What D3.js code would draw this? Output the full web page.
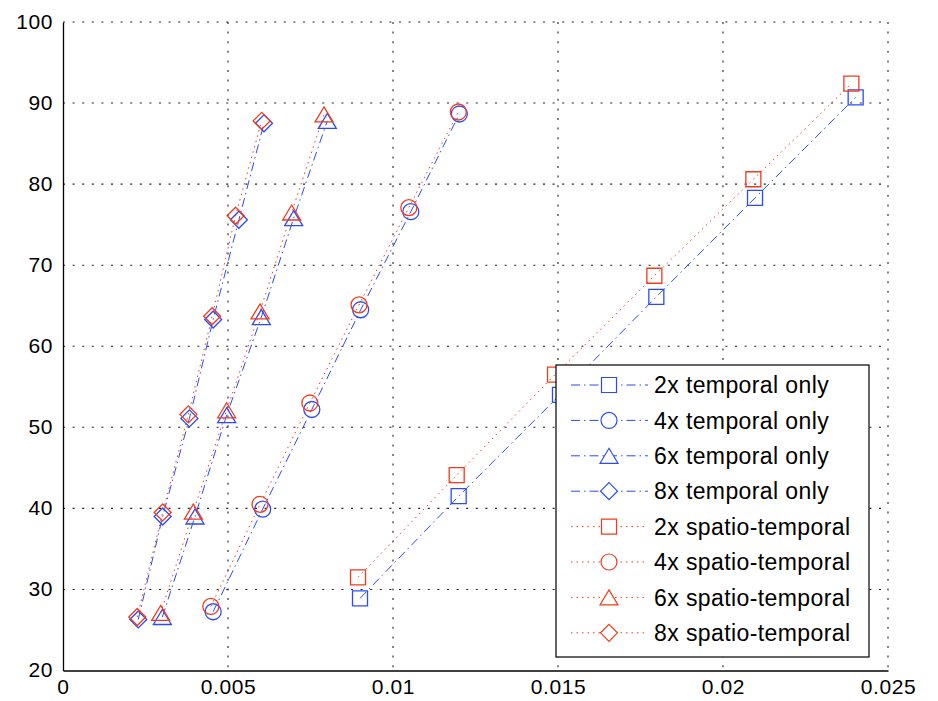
<!DOCTYPE html>
<html>
<head>
<meta charset="utf-8">
<script src="https://cdn.jsdelivr.net/npm/d3@7"></script>
<style>
  html, body { margin: 0; padding: 0; background: #fff; }
  svg { display: block; }
  text { font-family: "Liberation Sans", Arial, Helvetica, sans-serif; fill: #000; }
</style>
</head>
<body>
<svg id="chart" width="938" height="701"></svg>
<script>
// ---- data ----
const seriesNames = [
  "2x temporal only", "4x temporal only", "6x temporal only", "8x temporal only",
  "2x spatio-temporal", "4x spatio-temporal", "6x spatio-temporal", "8x spatio-temporal"
];
const seriesKinds = ["temporal", "temporal", "temporal", "temporal", "spatio", "spatio", "spatio", "spatio"];
const seriesMarkers = ["square", "circle", "triangle", "diamond", "square", "circle", "triangle", "diamond"];

const t2x_x = [0.0090, 0.01199, 0.01506, 0.01798, 0.02097, 0.02402];
const t2x_y = [28.9, 41.5, 54.0, 66.1, 78.3, 90.7];
const t4x_x = [0.00455, 0.00605, 0.00754, 0.00902, 0.01054, 0.01201];
const t4x_y = [27.25, 39.9, 52.2, 64.5, 76.6, 88.65];
const t6x_x = [0.00301, 0.0040, 0.00496, 0.00601, 0.00699, 0.00801];
const t6x_y = [26.6, 39.0, 51.5, 63.6, 75.8, 87.8];
const t8x_x = [0.00228, 0.00302, 0.00383, 0.00455, 0.00533, 0.00609];
const t8x_y = [26.3, 39.0, 51.1, 63.3, 75.6, 87.5];

const s2x_x = [0.00894, 0.01193, 0.01491, 0.01792, 0.02092, 0.02389];
const s2x_y = [31.5, 44.1, 56.5, 68.7, 80.6, 92.4];
const s4x_x = [0.00448, 0.00597, 0.00748, 0.00897, 0.01048, 0.01198];
const s4x_y = [27.9, 40.5, 53.0, 65.1, 77.1, 88.9];
const s6x_x = [0.00296, 0.00395, 0.00496, 0.00597, 0.00693, 0.00791];
const s6x_y = [27.1, 39.6, 52.1, 64.3, 76.5, 88.6];
const s8x_x = [0.00225, 0.00302, 0.0038, 0.00452, 0.00523, 0.00602];
const s8x_y = [26.6, 39.5, 51.6, 63.7, 76.1, 87.8];

const xTicks = [0, 0.005, 0.01, 0.015, 0.02, 0.025];
const xTickLabels = ["0", "0.005", "0.01", "0.015", "0.02", "0.025"];
const yTicks = [20, 30, 40, 50, 60, 70, 80, 90, 100];

const seriesX = [t2x_x, t4x_x, t6x_x, t8x_x, s2x_x, s4x_x, s6x_x, s8x_x];
const seriesY = [t2x_y, t4x_y, t6x_y, t8x_y, s2x_y, s4x_y, s6x_y, s8x_y];

// ---- layout / style ----
const plot = { left: 63, right: 888, top: 22, bottom: 670.5 };
const blue = "#2a4cf4";
const red = "#f23a1c";
const styleOf = {
  temporal: { color: blue, dash: "9,4,1.5,4" },
  spatio: { color: red, dash: "1.5,4" }
};

const svg = d3.select("#chart");
const x = d3.scaleLinear().domain([0, 0.025]).range([plot.left, plot.right]);
const y = d3.scaleLinear().domain([20, 100]).range([plot.bottom, plot.top]);

// grid
const grid = svg.append("g");
grid.selectAll("line.vg").data(xTicks.slice(1)).join("line")
  .attr("x1", d => x(d)).attr("x2", d => x(d))
  .attr("y1", plot.top).attr("y2", plot.bottom)
  .attr("stroke", "#222").attr("stroke-width", 1.1).attr("stroke-dasharray", "2,7.6");
grid.selectAll("line.hg").data(yTicks.slice(1)).join("line")
  .attr("x1", plot.left).attr("x2", plot.right)
  .attr("y1", d => y(d)).attr("y2", d => y(d))
  .attr("stroke", "#222").attr("stroke-width", 1.1).attr("stroke-dasharray", "2,7.6");

// axes
const xAxis = d3.axisBottom(x).tickValues(xTicks).tickFormat((d, i) => xTickLabels[i]).tickSize(0).tickPadding(10);
const yAxis = d3.axisLeft(y).tickValues(yTicks).tickFormat(d3.format("d")).tickSize(0).tickPadding(10);

const gx = svg.append("g").attr("transform", `translate(0,${plot.bottom})`).call(xAxis);
const gy = svg.append("g").attr("transform", `translate(${plot.left},0)`).call(yAxis);
[gx, gy].forEach(g => {
  g.attr("font-size", 21).attr("font-family", "'Liberation Sans', Arial, sans-serif");
  g.select(".domain").attr("stroke", "#000").attr("stroke-width", 1.3);
  g.selectAll("text").attr("font-size", 21).attr("letter-spacing", "0.6px").attr("fill", "#000");
});
gx.selectAll("text").attr("dy", "0.62em");
gy.selectAll("text").attr("dy", "0.3em");

// marker path generator (centered on bounding box)
function markerPath(kind) {
  switch (kind) {
    case "square": { const h = 7.5; return `M${-h},${-h}H${h}V${h}H${-h}Z`; }
    case "circle": { const r = 8; return `M${r},0A${r},${r} 0 1,1 ${-r},0A${r},${r} 0 1,1 ${r},0Z`; }
    case "triangle": { const w = 9, h = 7.5; return `M0,${-h}L${w},${h}L${-w},${h}Z`; }
    case "diamond": { const r = 8.5; return `M0,${-r}L${r},0L0,${r}L${-r},0Z`; }
  }
}

// series lines and markers
const line = d3.line().x(d => x(d[0])).y(d => y(d[1]));
seriesNames.forEach((name, i) => {
  const st = styleOf[seriesKinds[i]];
  const pts = seriesX[i].map((v, k) => [v, seriesY[i][k]]);
  const g = svg.append("g");
  g.append("path").datum(pts).attr("d", line)
    .attr("fill", "none").attr("stroke", st.color).attr("stroke-width", 1)
    .attr("stroke-dasharray", st.dash);
  g.selectAll("path.m").data(pts).join("path")
    .attr("d", markerPath(seriesMarkers[i]))
    .attr("transform", d => `translate(${x(d[0])},${y(d[1])})`)
    .attr("fill", "none").attr("stroke", st.color).attr("stroke-width", 1.3);
});

// legend
const leg = { left: 556, top: 365, right: 869, bottom: 657, row0: 385, rowStep: 35.4 };
const lg = svg.append("g");
lg.append("rect").attr("x", leg.left).attr("y", leg.top)
  .attr("width", leg.right - leg.left).attr("height", leg.bottom - leg.top)
  .attr("fill", "#fff").attr("stroke", "#000").attr("stroke-width", 1.2);
seriesNames.forEach((name, i) => {
  const st = styleOf[seriesKinds[i]];
  const yy = leg.row0 + i * leg.rowStep;
  lg.append("line").attr("x1", 571).attr("x2", 648).attr("y1", yy).attr("y2", yy)
    .attr("stroke", st.color).attr("stroke-width", 1).attr("stroke-dasharray", st.dash);
  lg.append("path").attr("d", markerPath(seriesMarkers[i]))
    .attr("transform", `translate(609,${yy})`)
    .attr("fill", "#fff").attr("stroke", st.color).attr("stroke-width", 1.2);
  lg.append("text").attr("x", 654).attr("y", yy).attr("dy", "0.36em")
    .attr("font-size", 23).attr("letter-spacing", "0.4px").text(name);
});
</script>
</body>
</html>
